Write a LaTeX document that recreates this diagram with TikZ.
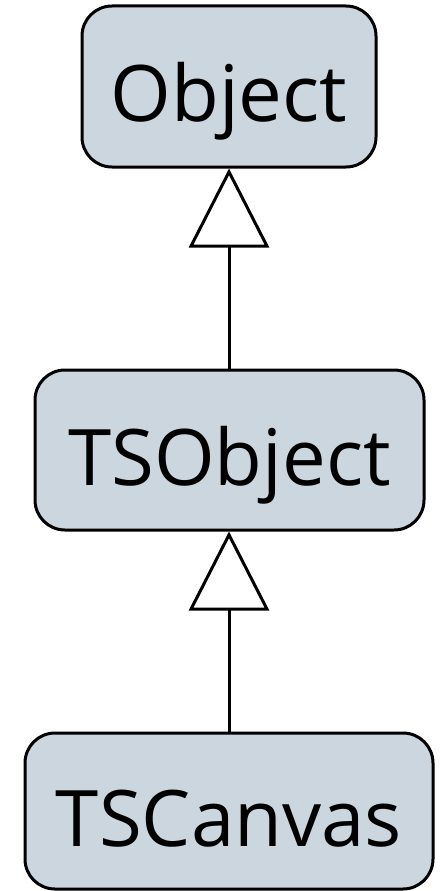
\documentclass[tikz,border=0pt]{standalone}
\usepackage{fontspec}
\setmainfont{Open Sans}
\usetikzlibrary{arrows.meta}
\definecolor{classfill}{HTML}{CBD6DE}
\begin{document}
\begin{tikzpicture}[x=1pt,y=-1pt,
  classbox/.style={draw=black, line width=3pt, fill=classfill, rounded corners=30pt,
    inner sep=0pt, text height=70pt, text depth=0pt,
    font=\fontsize{78}{90}\selectfont},
  inherit/.style={draw=black, line width=3pt,
    -{Triangle[open, length=79pt, width=80pt, fill=white]}}]
\useasboundingbox (0,0) rectangle (441,891);
\node[classbox, minimum width=294pt, minimum height=161pt] (obj) at (229,86.5) {Object};
\node[classbox, minimum width=389pt, minimum height=160pt] (tso) at (229.5,450) {TSObject};
\node[classbox, minimum width=408pt, minimum height=156pt] (tsc) at (229,811) {TSCanvas};
\draw[inherit] (tso.north -| obj.south) -- (obj.south);
\draw[inherit] (tsc.north -| obj.south) -- (obj.south |- tso.south);
\end{tikzpicture}
\end{document}
